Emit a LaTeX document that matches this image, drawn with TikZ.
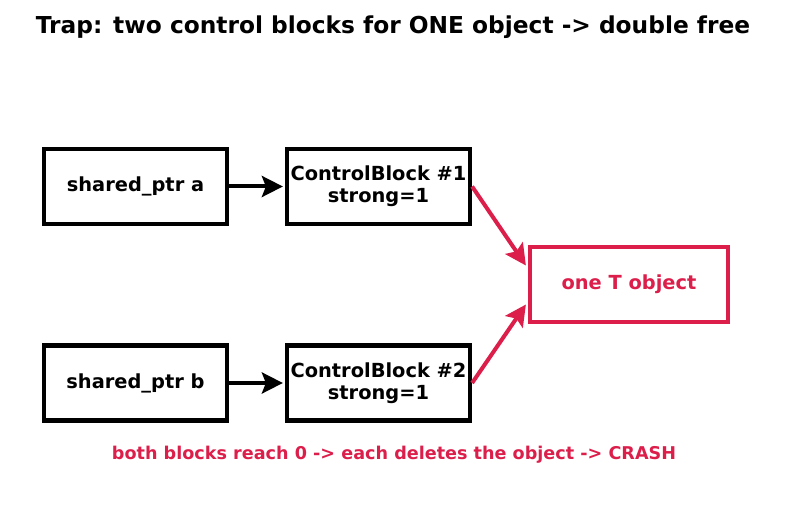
\documentclass[tikz,border=0pt]{standalone}
\usepackage{fontspec}
\setmainfont{DejaVu Sans}
\usetikzlibrary{arrows.meta}
\definecolor{crim}{HTML}{DC1E4B}
\tikzset{
  box/.style={draw=black, line width=4.2pt, minimum width=183pt, minimum height=75pt, inner sep=0pt, align=center, font=\bfseries\fontsize{19.4}{22}\selectfont},
  redbox/.style={box, draw=crim, text=crim, minimum width=198pt},
  arr/.style={line width=4pt, -{Stealth[length=21pt,width=21pt,inset=4pt]}},
  redarr/.style={arr, draw=crim, color=crim},
}
\begin{document}
\begin{tikzpicture}[x=1pt,y=-1pt]
\useasboundingbox (0,0) rectangle (787,510);
\node[font=\bfseries\fontsize{23.3}{28}\selectfont] (title) at (393,27) {Trap: two control blocks for ONE object -> double free};
\node[box] (a) at (135.5,186.5) {shared\_ptr a};
\node[box] (c1) at (378.5,186.5) {ControlBlock \#1\\strong=1};
\node[box] (b) at (135.5,383) {shared\_ptr b};
\node[box] (c2) at (378.5,383) {ControlBlock \#2\\strong=1};
\node[redbox] (t) at (629,284.5) {one T object};
\node[text=crim, font=\bfseries\fontsize{17.6}{22}\selectfont] (note) at (394,455) {both blocks reach 0 -> each deletes the object -> CRASH};
\draw[arr] (a.east) -- ([xshift=-2pt]c1.west);
\draw[arr] (b.east) -- ([xshift=-2pt]c2.west);
\draw[redarr] (c1.east) -- ([xshift=-2pt,yshift=19pt]t.west);
\draw[redarr] (c2.east) -- ([xshift=-2pt,yshift=-20pt]t.west);
\end{tikzpicture}
\end{document}
